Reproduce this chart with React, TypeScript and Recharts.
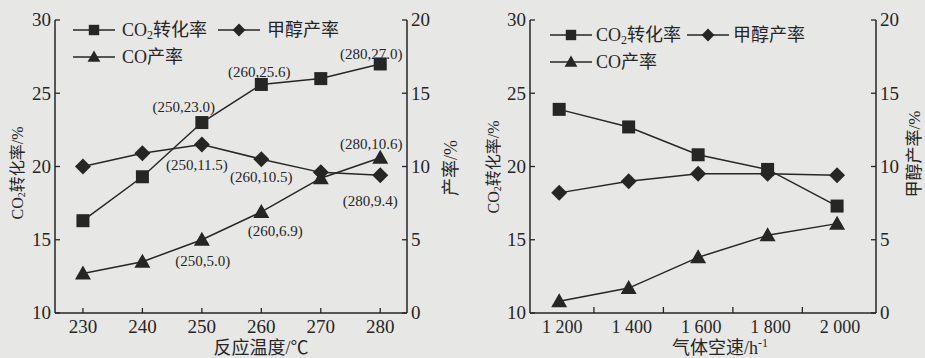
import React from 'react';
import { LineChart, Line, XAxis, YAxis, Legend, LabelList } from 'recharts';

// left panel: reaction temperature
const temps = [230, 240, 250, 260, 270, 280];
const tempCo2Conv = [16.3, 19.3, 23.0, 25.6, 26.0, 27.0];
const tempMeohYield = [10.0, 10.9, 11.5, 10.5, 9.6, 9.4];
const tempCoYield = [2.7, 3.5, 5.0, 6.9, 9.2, 10.6];
const labelledTemps = [250, 260, 280];

// right panel: gas hourly space velocity
const speeds = [1200, 1400, 1600, 1800, 2000];
const speedCo2Conv = [23.9, 22.7, 20.8, 19.8, 17.3];
const speedMeohYield = [8.2, 9.0, 9.5, 9.5, 9.4];
const speedCoYield = [0.8, 1.7, 3.8, 5.3, 6.1];

const tempTicks = [230, 240, 250, 260, 270, 280];
const speedTicks = [1200, 1300, 1400, 1500, 1600, 1700, 1800, 1900, 2000];
const convTicks = [10, 15, 20, 25, 30];
const yieldTicks = [0, 5, 10, 15, 20];

const tempRows = temps.map((t, i) => ({
  t,
  conv: tempCo2Conv[i],
  meoh: tempMeohYield[i],
  co: tempCoYield[i],
}));
const speedRows = speeds.map((s, i) => ({
  s,
  conv: speedCo2Conv[i],
  meoh: speedMeohYield[i],
  co: speedCoYield[i],
}));

const FONT = '"Liberation Serif", "Noto Sans CJK SC", serif';
const INK = '#262626';
const BG = '#e7e7e5';

type Shape = 'square' | 'diamond' | 'triangle';

function Marker({ cx, cy, shape, k = 1 }: { cx?: number; cy?: number; shape: Shape; k?: number }) {
  if (cx == null || cy == null) return null;
  if (shape === 'square') {
    const h = 6.5 * k;
    return <rect x={cx - h} y={cy - h} width={2 * h} height={2 * h} fill={INK} />;
  }
  if (shape === 'diamond') {
    const h = 8 * k;
    return <polygon points={`${cx},${cy - h} ${cx + h},${cy} ${cx},${cy + h} ${cx - h},${cy}`} fill={INK} />;
  }
  const w = 8 * k;
  return (
    <polygon
      points={`${cx},${cy - 8 * k} ${cx + w},${cy + 6 * k} ${cx - w},${cy + 6 * k}`}
      fill={INK}
    />
  );
}

const dotOf = (shape: Shape) => (p: any) =>
  <Marker key={`${shape}-${p.index}`} cx={p.cx} cy={p.cy} shape={shape} />;

// where each point label sits relative to its point (dx, dy)
const convLabelPos: Record<number, [number, number]> = { 250: [-18, -16], 260: [-2, -13], 280: [-9, -10] };
const meohLabelPos: Record<number, [number, number]> = { 250: [-5, 20], 260: [0, 18], 280: [-10, 25] };
const coLabelPos: Record<number, [number, number]> = { 250: [1, 21], 260: [14, 19], 280: [-9, -14] };

const pointLabel = (pos: Record<number, [number, number]>) => (p: any) => {
  const t = temps[p.index];
  if (!labelledTemps.includes(t) || p.x == null) return null;
  const [dx, dy] = pos[t];
  return (
    <text
      key={`lab-${p.index}`}
      x={p.x + dx}
      y={p.y + dy}
      dy="0.35em"
      textAnchor="middle"
      fontSize={15}
      fontFamily={FONT}
      fill={INK}
    >
      {`(${t},${Number(p.value).toFixed(1)})`}
    </text>
  );
};

function LeftTick({ x, y, payload, fs }: any) {
  return (
    <g>
      <line x1={x} y1={y} x2={x + 5} y2={y} stroke={INK} strokeWidth={1.3} />
      <text x={x - 4} y={y} dy="0.34em" textAnchor="end" fontSize={fs} fontFamily={FONT} fill={INK}>
        {payload.value}
      </text>
    </g>
  );
}

function RightTick({ x, y, payload, fs }: any) {
  return (
    <g>
      <line x1={x} y1={y} x2={x - 5} y2={y} stroke={INK} strokeWidth={1.3} />
      <text x={x + 4} y={y} dy="0.34em" textAnchor="start" fontSize={fs} fontFamily={FONT} fill={INK}>
        {payload.value}
      </text>
    </g>
  );
}

const fmtSpeed = (v: number) =>
  v >= 1000 ? `${Math.floor(v / 1000)} ${String(v % 1000).padStart(3, '0')}` : String(v);

function TempTick({ x, y, payload }: any) {
  return (
    <g>
      <line x1={x} y1={y} x2={x} y2={y - 5} stroke={INK} strokeWidth={1.3} />
      <text x={x} y={y + 20} textAnchor="middle" fontSize={19} fontFamily={FONT} fill={INK}>
        {payload.value}
      </text>
    </g>
  );
}

function SpeedTick({ x, y, payload }: any) {
  const v = payload.value as number;
  if (v % 200 !== 0) {
    return <line x1={x} y1={y} x2={x} y2={y - 6} stroke={INK} strokeWidth={1.3} />;
  }
  return (
    <text x={x + 3} y={y + 20} textAnchor="middle" fontSize={18} fontFamily={FONT} fill={INK}>
      {fmtSpeed(v)}
    </text>
  );
}

function VTitle({ x, y, fs, co2, text }: { x: number; y: number; fs: number; co2?: boolean; text: string }) {
  return (
    <text
      x={x}
      y={y}
      transform={`rotate(-90 ${x} ${y})`}
      textAnchor="middle"
      dominantBaseline="central"
      fontSize={fs}
      fontFamily={FONT}
      fill={INK}
    >
      {co2 ? (
        <>
          <tspan>CO</tspan>
          <tspan dy={4} fontSize={fs * 0.62}>2</tspan>
          <tspan dy={-4}>{text}</tspan>
        </>
      ) : (
        text
      )}
    </text>
  );
}

const legendItems: { shape: Shape; name: string; co2?: boolean }[] = [
  { shape: 'square', name: '转化率', co2: true },
  { shape: 'diamond', name: '甲醇产率' },
  { shape: 'triangle', name: 'CO产率' },
];

function LegendBox({ secondX, textGap }: { secondX: number; textGap: number }) {
  const spots = [
    [0, 0],
    [secondX, 0],
    [0, 27],
  ];
  return (
    <div style={{ position: 'relative', width: 320, height: 50 }}>
      {legendItems.map((it, i) => (
        <div key={it.name} style={{ position: 'absolute', left: spots[i][0], top: spots[i][1], height: 20 }}>
          <svg width={42} height={20} style={{ position: 'absolute', left: 0, top: 0 }}>
            <line x1={0} y1={10} x2={42} y2={10} stroke={INK} strokeWidth={1.5} />
            <Marker cx={21} cy={10} shape={it.shape} k={0.8} />
          </svg>
          <span
            style={{
              position: 'absolute',
              left: textGap,
              top: 0,
              whiteSpace: 'nowrap',
              fontFamily: FONT,
              fontSize: 18,
              lineHeight: '20px',
              color: INK,
            }}
          >
            {it.co2 ? (
              <>
                CO<sub style={{ fontSize: 12, verticalAlign: '-3px', lineHeight: 0 }}>2</sub>
              </>
            ) : null}
            {it.name}
          </span>
        </div>
      ))}
    </div>
  );
}

const axisLine = { stroke: INK, strokeWidth: 1.5 };
const lineProps = { stroke: INK, strokeWidth: 1.5, isAnimationActive: false, type: 'linear' as const };

export default function App() {
  return (
    <div style={{ position: 'absolute', left: 0, top: 0, width: 925, height: 358, background: BG, display: 'flex' }}>
      <LineChart width={462} height={358} data={tempRows} margin={{ top: 20, right: 15, bottom: 15, left: 15 }}>
        <XAxis
          dataKey="t"
          type="number"
          domain={[225.3, 284.5]}
          ticks={tempTicks}
          interval={0}
          allowDataOverflow
          height={30}
          axisLine={axisLine}
          tickLine={false}
          tickSize={0}
          tickMargin={0}
          tick={<TempTick />}
          label={() => (
            <text x={261} y={354} textAnchor="middle" fontSize={18} fontFamily={FONT} fill={INK}>
              反应温度/℃
            </text>
          )}
        />
        <YAxis
          yAxisId="conv"
          domain={[10, 30]}
          ticks={convTicks}
          interval={0}
          width={40}
          axisLine={axisLine}
          tickLine={false}
          tickSize={0}
          tickMargin={0}
          tick={<LeftTick fs={19} />}
          label={() => <VTitle x={17} y={173} fs={16} co2 text="转化率/%" />}
        />
        <YAxis
          yAxisId="yield"
          orientation="right"
          domain={[0, 20]}
          ticks={yieldTicks}
          interval={0}
          width={40}
          axisLine={axisLine}
          tickLine={false}
          tickSize={0}
          tickMargin={0}
          tick={<RightTick fs={19} />}
          label={() => <VTitle x={451} y={168} fs={18} text="产率/%" />}
        />
        <Legend
          layout="horizontal"
          verticalAlign="middle"
          align="center"
          wrapperStyle={{ position: 'absolute', left: 73, top: 20, width: 320, height: 50 }}
          content={() => <LegendBox secondX={145} textGap={49} />}
        />
        <Line yAxisId="conv" dataKey="conv" {...lineProps} dot={dotOf('square')}>
          <LabelList dataKey="conv" content={pointLabel(convLabelPos)} />
        </Line>
        <Line yAxisId="yield" dataKey="meoh" {...lineProps} dot={dotOf('diamond')}>
          <LabelList dataKey="meoh" content={pointLabel(meohLabelPos)} />
        </Line>
        <Line yAxisId="yield" dataKey="co" {...lineProps} dot={dotOf('triangle')}>
          <LabelList dataKey="co" content={pointLabel(coLabelPos)} />
        </Line>
      </LineChart>

      <LineChart width={463} height={358} data={speedRows} margin={{ top: 20, right: 9, bottom: 15, left: 28 }}>
        <XAxis
          dataKey="s"
          type="number"
          domain={[1116, 2112]}
          ticks={speedTicks}
          interval={0}
          allowDataOverflow
          height={30}
          axisLine={axisLine}
          tickLine={false}
          tickSize={0}
          tickMargin={0}
          tick={<SpeedTick />}
          label={() => (
            <text x={258} y={354} textAnchor="middle" fontSize={18} fontFamily={FONT} fill={INK}>
              气体空速/h
              <tspan dy={-7} fontSize={12}>-1</tspan>
            </text>
          )}
        />
        <YAxis
          yAxisId="conv"
          domain={[10, 30]}
          ticks={convTicks}
          interval={0}
          width={40}
          axisLine={axisLine}
          tickLine={false}
          tickSize={0}
          tickMargin={0}
          tick={<LeftTick fs={19} />}
          label={() => <VTitle x={31} y={167} fs={16} co2 text="转化率/%" />}
        />
        <YAxis
          yAxisId="yield"
          orientation="right"
          domain={[0, 20]}
          ticks={yieldTicks}
          interval={0}
          width={40}
          axisLine={axisLine}
          tickLine={false}
          tickSize={0}
          tickMargin={0}
          tick={<RightTick fs={19} />}
          label={() => <VTitle x={452} y={154} fs={17} text="甲醇产率/%" />}
        />
        <Legend
          layout="horizontal"
          verticalAlign="middle"
          align="center"
          wrapperStyle={{ position: 'absolute', left: 88, top: 25, width: 320, height: 50 }}
          content={() => <LegendBox secondX={137} textGap={46} />}
        />
        <Line yAxisId="conv" dataKey="conv" {...lineProps} dot={dotOf('square')} />
        <Line yAxisId="yield" dataKey="meoh" {...lineProps} dot={dotOf('diamond')} />
        <Line yAxisId="yield" dataKey="co" {...lineProps} dot={dotOf('triangle')} />
      </LineChart>
    </div>
  );
}
